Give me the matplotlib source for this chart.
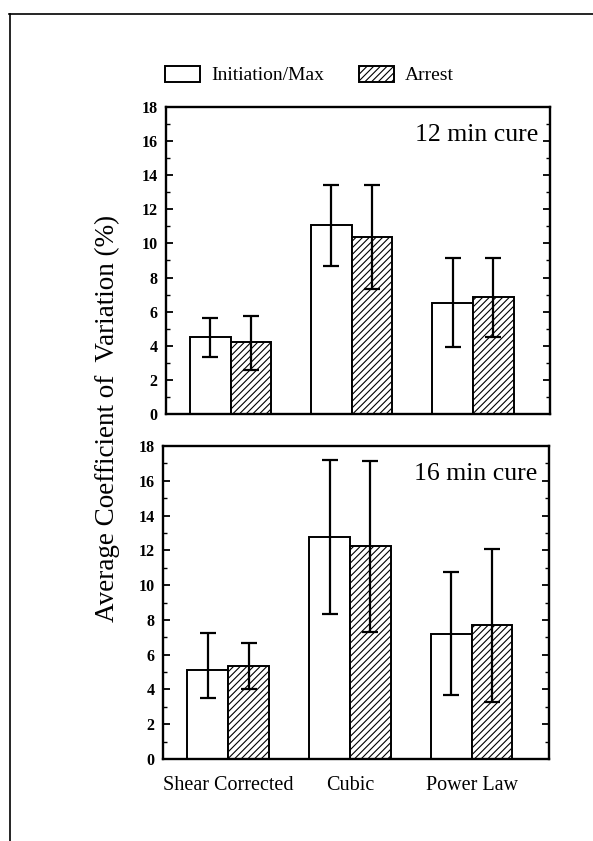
import matplotlib
matplotlib.use("Agg")
from matplotlib import pyplot as plt
from matplotlib.patches import Patch
from matplotlib.lines import Line2D
from matplotlib.ticker import MultipleLocator
import numpy as np

plt.rcParams['font.family'] = ['Liberation Serif', 'DejaVu Serif']
plt.rcParams['hatch.linewidth'] = 0.8

methods = ['Shear Corrected', 'Cubic', 'Power Law']
series = ['Initiation/Max', 'Arrest']

# 12 min cure
init_12 = [4.5, 11.1, 6.5]
init_12_lo = [3.35, 8.7, 3.95]
init_12_hi = [5.65, 13.45, 9.15]
arrest_12 = [4.2, 10.4, 6.85]
arrest_12_lo = [2.6, 7.35, 4.5]
arrest_12_hi = [5.75, 13.4, 9.15]

# 16 min cure
init_16 = [5.1, 12.75, 7.2]
init_16_lo = [3.5, 8.35, 3.7]
init_16_hi = [7.25, 17.2, 10.75]
arrest_16 = [5.35, 12.25, 7.7]
arrest_16_lo = [4.0, 7.3, 3.3]
arrest_16_hi = [6.65, 17.15, 12.1]

panel_titles = ['12 min cure', '16 min cure']

W, H = 593, 841
fig = plt.figure(figsize=(W / 100, H / 100), dpi=100)

ax_top = fig.add_axes([165.7 / W, 1 - 414 / H, 384.3 / W, 307 / H])
ax_bot = fig.add_axes([163 / W, 1 - 759 / H, 386 / W, 313 / H])

x = np.arange(len(methods))
bw = 0.335


def draw_panel(ax, v1, lo1, hi1, v2, lo2, hi2, title):
    v1, v2 = np.array(v1), np.array(v2)
    e1 = [v1 - np.array(lo1), np.array(hi1) - v1]
    e2 = [v2 - np.array(lo2), np.array(hi2) - v2]
    ax.bar(x - bw / 2, v1, bw, color='white', edgecolor='black', linewidth=1.4, zorder=2)
    ax.bar(x + bw / 2, v2, bw, color='white', edgecolor='black', hatch='/////', linewidth=1.4, zorder=2)
    ax.errorbar(x - bw / 2, v1, yerr=e1, fmt='none', ecolor='black', elinewidth=1.6,
                capsize=5.5, capthick=1.6, zorder=3)
    ax.errorbar(x + bw / 2, v2, yerr=e2, fmt='none', ecolor='black', elinewidth=1.6,
                capsize=5.5, capthick=1.6, zorder=3)
    ax.set_xlim(-0.535, 2.635)
    ax.set_ylim(0, 18)
    ax.yaxis.set_major_locator(MultipleLocator(2))
    ax.yaxis.set_minor_locator(MultipleLocator(1))
    ax.tick_params(axis='y', which='major', direction='in', length=5, width=1.3,
                   right=True, pad=6, labelsize=11.5)
    ax.tick_params(axis='y', which='minor', direction='in', length=3, width=1.0, right=True)
    for lab in ax.get_yticklabels():
        lab.set_fontweight('bold')
    ax.tick_params(axis='x', length=0, pad=12, labelsize=14.5)
    for s in ax.spines.values():
        s.set_linewidth(1.7)
    ax.text(0.97, 0.91, title, transform=ax.transAxes, ha='right', va='center', fontsize=18.5)


draw_panel(ax_top, init_12, init_12_lo, init_12_hi, arrest_12, arrest_12_lo, arrest_12_hi, panel_titles[0])
draw_panel(ax_bot, init_16, init_16_lo, init_16_hi, arrest_16, arrest_16_lo, arrest_16_hi, panel_titles[1])

ax_top.set_xticks(x)
ax_top.set_xticklabels([])
ax_bot.set_xticks(x)
ax_bot.set_xticklabels(methods)

fig.text(107 / W, 1 - 418 / H, 'Average Coefficient of  Variation (%)', rotation=90,
         ha='center', va='center', fontsize=19.5)

handles = [Patch(facecolor='white', edgecolor='black', linewidth=1.4),
           Patch(facecolor='white', edgecolor='black', hatch='/////', linewidth=1.4)]
fig.legend(handles, series, loc='center left', bbox_to_anchor=(165 / W, 1 - 75 / H),
           ncol=2, frameon=False, fontsize=14, handlelength=1.8, handleheight=0.9,
           handletextpad=0.6, columnspacing=1.75, borderpad=0, borderaxespad=0)

# outer frame lines of the scanned page
fig.add_artist(Line2D([10 / W, 10 / W], [0, 1 - 14 / H], color='black', linewidth=1.2))
fig.add_artist(Line2D([9 / W, 1], [1 - 14 / H, 1 - 14 / H], color='black', linewidth=1.2))

plt.savefig('out.png', dpi=100)
